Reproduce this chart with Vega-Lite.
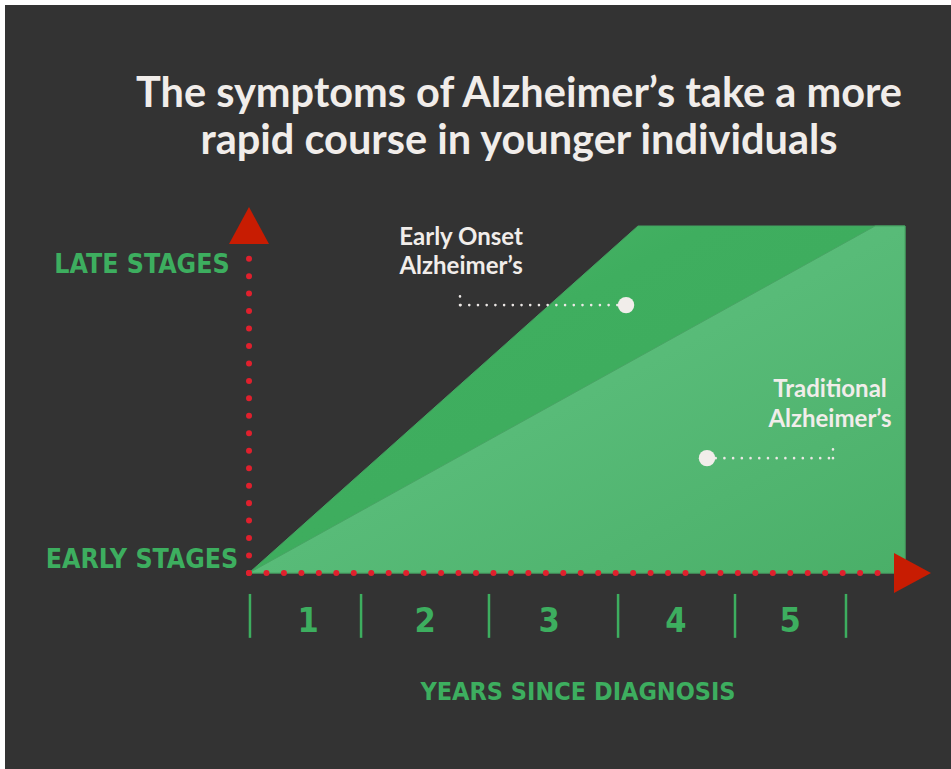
{
  "$schema": "https://vega.github.io/schema/vega-lite/v6.json",
  "width": 951,
  "height": 769,
  "autosize": {"type": "fit", "contains": "padding"},
  "padding": {"left": 5, "top": 5, "right": 0, "bottom": 0},
  "background": "#ffffff",
  "config": {"view": {"fill": "#333333", "stroke": null}},
  "datasets": {
    "courses": [
      {"course": "Early onset", "x": 0, "y": 0},
      {"course": "Early onset", "x": 3.263, "y": 1},
      {"course": "Early onset", "x": 5.503, "y": 1},
      {"course": "Traditional", "x": 0, "y": 0},
      {"course": "Traditional", "x": 5.252, "y": 1},
      {"course": "Traditional", "x": 5.503, "y": 1}
    ],
    "axisDots": [
      {"axis": "stage", "x": 0, "y": 0, "x2": 0, "y2": 0.945},
      {"axis": "years", "x": 0, "y": 0, "x2": 5.277, "y2": 0}
    ],
    "arrowUp": [{"x": 0, "y": 1.0014}],
    "arrowRight": [{"x": 5.566, "y": 0}],
    "yearBounds": [
      {"x": 0.008, "y": -0.0605, "y2": -0.187},
      {"x": 0.94, "y": -0.0605, "y2": -0.187},
      {"x": 2.013, "y": -0.0605, "y2": -0.187},
      {"x": 3.096, "y": -0.0605, "y2": -0.187},
      {"x": 4.077, "y": -0.0605, "y2": -0.187},
      {"x": 5.008, "y": -0.0605, "y2": -0.187}
    ],
    "yearLabels": [
      {"label": "1", "x": 0.495, "y": -0.17},
      {"label": "2", "x": 1.477, "y": -0.17},
      {"label": "3", "x": 2.517, "y": -0.17},
      {"label": "4", "x": 3.582, "y": -0.17},
      {"label": "5", "x": 4.539, "y": -0.17}
    ],
    "leaders": [
      {"x": 3.163, "y": 0.772, "x2": 1.77, "y2": 0.772},
      {"x": 1.77, "y": 0.772, "x2": 1.77, "y2": 0.821},
      {"x": 3.842, "y": 0.331, "x2": 4.899, "y2": 0.331},
      {"x": 4.899, "y": 0.331, "x2": 4.899, "y2": 0.38}
    ],
    "markers": [
      {"course": "Early onset", "x": 3.163, "y": 0.772},
      {"course": "Traditional", "x": 3.842, "y": 0.331}
    ],
    "titleLines": [
      {"label": "The symptoms of Alzheimer’s take a more", "x": 2.265, "y": 1.343},
      {"label": "rapid course in younger individuals", "x": 2.265, "y": 1.207}
    ],
    "notes": [
      {"label": "Early Onset", "x": 1.779, "y": 0.945},
      {"label": "Alzheimer’s", "x": 1.779, "y": 0.862},
      {"label": "Traditional", "x": 4.874, "y": 0.507},
      {"label": "Alzheimer’s", "x": 4.874, "y": 0.421}
    ],
    "stageLabels": [
      {"label": "LATE STAGES", "x": -0.898, "y": 0.865},
      {"label": "EARLY STAGES", "x": -0.898, "y": 0.0144}
    ],
    "axisTitle": [
      {"label": "YEARS SINCE DIAGNOSIS", "x": 2.76, "y": -0.366}
    ]
  },
  "encoding": {
    "x": {"field": "x", "type": "quantitative", "scale": {"domain": [-2.047, 5.889], "nice": false, "zero": false}, "axis": null},
    "y": {"field": "y", "type": "quantitative", "scale": {"domain": [-0.565, 1.637], "nice": false, "zero": false}, "axis": null}
  },
  "layer": [
    {
      "data": {"name": "courses"},
      "transform": [{"filter": "datum.course === 'Early onset'"}],
      "mark": {
        "type": "area",
        "color": {"gradient": "linear", "x1": 0, "y1": 0, "x2": 1, "y2": 1,
          "stops": [{"offset": 0, "color": "#52b86e"}, {"offset": 0.35, "color": "#3fae5f"}, {"offset": 1, "color": "#3aa95a"}]},
        "stroke": "#45a262",
        "strokeWidth": 1
      },
      "encoding": {"y2": {"datum": 0}}
    },
    {
      "data": {"name": "courses"},
      "transform": [{"filter": "datum.course === 'Traditional'"}],
      "mark": {
        "type": "area",
        "color": {"gradient": "linear", "x1": 0, "y1": 0, "x2": 1, "y2": 1,
          "stops": [{"offset": 0, "color": "#60c07f"}, {"offset": 0.5, "color": "#58bb78"}, {"offset": 1, "color": "#4aaf68"}]},
        "stroke": "#48a464",
        "strokeWidth": 1
      },
      "encoding": {"y2": {"datum": 0}}
    },
    {
      "data": {"name": "axisDots"},
      "mark": {"type": "rule", "color": "#e0202d", "strokeWidth": 6, "strokeCap": "round", "strokeDash": [0.01, 17.45]},
      "encoding": {"x2": {"field": "x2"}, "y2": {"field": "y2"}}
    },
    {
      "data": {"name": "arrowUp"},
      "mark": {"type": "point", "shape": "M-1,0.925L0,-0.925L1,0.925Z", "filled": true, "opacity": 1, "color": "#c81c02", "size": 1600}
    },
    {
      "data": {"name": "arrowRight"},
      "mark": {"type": "point", "shape": "M-0.925,-1L0.925,0L-0.925,1Z", "filled": true, "opacity": 1, "color": "#c81c02", "size": 1600}
    },
    {
      "data": {"name": "yearBounds"},
      "mark": {"type": "rule", "color": "#3dae5f", "strokeWidth": 2.5},
      "encoding": {"y2": {"field": "y2"}}
    },
    {
      "data": {"name": "leaders"},
      "mark": {"type": "rule", "color": "#ece8e6", "strokeWidth": 2.6, "strokeCap": "round", "strokeDash": [0.01, 8.7]},
      "encoding": {"x2": {"field": "x2"}, "y2": {"field": "y2"}}
    },
    {
      "data": {"name": "markers"},
      "mark": {"type": "point", "shape": "circle", "filled": true, "opacity": 1, "color": "#f1edea", "size": 270}
    },
    {
      "data": {"name": "titleLines"},
      "mark": {"type": "text", "font": "Lato", "fontWeight": "bold", "fontSize": 41.5, "color": "#f1edea", "align": "center", "baseline": "alphabetic"},
      "encoding": {"text": {"field": "label"}}
    },
    {
      "data": {"name": "notes"},
      "mark": {"type": "text", "font": "Lato", "fontWeight": "bold", "fontSize": 24, "color": "#f1edea", "align": "center", "baseline": "alphabetic"},
      "encoding": {"text": {"field": "label"}}
    },
    {
      "data": {"name": "stageLabels"},
      "mark": {"type": "text", "font": "DejaVu Sans Condensed, sans-serif", "fontWeight": "bold", "fontSize": 26.5, "color": "#3dae5f", "align": "center", "baseline": "alphabetic"},
      "encoding": {"text": {"field": "label"}}
    },
    {
      "data": {"name": "yearLabels"},
      "mark": {"type": "text", "font": "DejaVu Sans Condensed, sans-serif", "fontWeight": "bold", "fontSize": 34, "color": "#3dae5f", "align": "center", "baseline": "alphabetic"},
      "encoding": {"text": {"field": "label"}}
    },
    {
      "data": {"name": "axisTitle"},
      "mark": {"type": "text", "font": "DejaVu Sans Condensed, sans-serif", "fontWeight": "bold", "fontSize": 25, "color": "#3dae5f", "align": "center", "baseline": "alphabetic"},
      "encoding": {"text": {"field": "label"}}
    }
  ]
}
